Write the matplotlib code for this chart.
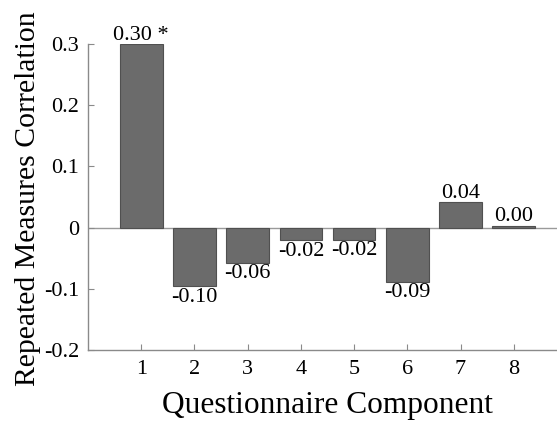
import matplotlib.pyplot as plt

components = [1, 2, 3, 4, 5, 6, 7, 8]
correlations = [0.300, -0.096, -0.058, -0.021, -0.020, -0.089, 0.042, 0.003]
bar_labels = ['0.30 *', '-0.10', '-0.06', '-0.02', '-0.02', '-0.09', '0.04', '0.00']

plt.rcParams['font.family'] = ['Liberation Serif', 'DejaVu Serif']

fig = plt.figure(figsize=(5.57, 4.22), dpi=100)
# axes run off the right edge, as in the cropped original
ax = fig.add_axes([88 / 557, 1 - 350 / 422, (567 - 88) / 557, (350 - 44) / 422])

ax.bar(components, correlations, width=0.8, color='#6b6b6b',
       edgecolor='#505050', linewidth=0.8, zorder=2)
ax.axhline(0, color='#9a9a9a', linewidth=1.0, zorder=1)

for x, v, lab in zip(components, correlations, bar_labels):
    if v >= 0:
        ax.text(x, v + 0.007, lab, ha='center', va='baseline', fontsize=16)
    else:
        ax.text(x, v - 0.002, lab, ha='center', va='top', fontsize=16)

ax.set_xlim(0, 9)
ax.set_ylim(-0.2, 0.3)
ax.set_xticks(components)
ax.set_yticks([-0.2, -0.1, 0, 0.1, 0.2, 0.3])
ax.set_yticklabels(['-0.2', '-0.1', '0', '0.1', '0.2', '0.3'])
ax.tick_params(direction='in', length=4, color='#8a8a8a', labelsize=16)
ax.tick_params(axis='y', pad=6.5)
ax.tick_params(axis='x', pad=7.5)

for side in ['top', 'right']:
    ax.spines[side].set_visible(False)
for side in ['left', 'bottom']:
    ax.spines[side].set_color('#8a8a8a')
    ax.spines[side].set_linewidth(1.0)

ax.set_xlabel('Questionnaire Component', fontsize=22.6)
ax.set_ylabel('Repeated Measures Correlation', fontsize=21.4)
ax.xaxis.set_label_coords(0.5, -0.134)
ax.yaxis.set_label_coords(-0.099, 0.495)

plt.savefig('out.png', dpi=100)
